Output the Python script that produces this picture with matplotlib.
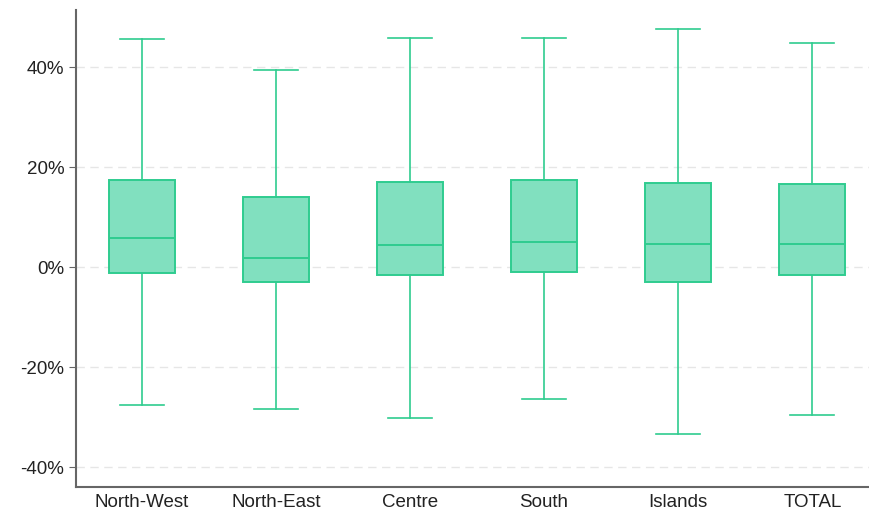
import matplotlib
matplotlib.use("Agg")
import matplotlib.pyplot as plt
from matplotlib.ticker import FuncFormatter

# values in percent
regions = ["North-West", "North-East", "Centre", "South", "Islands", "TOTAL"]
whisk_lo = [-27.6, -28.4, -30.2, -26.4, -33.4, -29.6]
q1 = [-1.2, -3.0, -1.6, -1.0, -3.0, -1.6]
median = [5.8, 1.8, 4.4, 5.0, 4.6, 4.6]
q3 = [17.4, 14.0, 17.0, 17.4, 16.8, 16.6]
whisk_hi = [45.6, 39.4, 45.8, 45.8, 47.6, 44.8]

edge = "#2fcc8f"
fill = "#81e0bf"

plt.rcParams['font.family'] = ['Liberation Sans', 'DejaVu Sans']

fig = plt.figure(figsize=(8.7, 5.12), dpi=100)
ax = fig.add_axes([0.0874, 0.0488, 0.9126, 0.9316])

stats = []
for i in range(len(regions)):
    stats.append({"label": regions[i], "whislo": whisk_lo[i], "q1": q1[i],
                  "med": median[i], "q3": q3[i], "whishi": whisk_hi[i],
                  "fliers": []})

ax.bxp(stats, positions=range(len(regions)), widths=0.49, patch_artist=True,
       showfliers=False, capwidths=0.33,
       boxprops=dict(facecolor=fill, edgecolor=edge, linewidth=1.4),
       medianprops=dict(color=edge, linewidth=1.4),
       whiskerprops=dict(color=edge, linewidth=1.2),
       capprops=dict(color=edge, linewidth=1.2))

ax.set_xlim(-0.49, 5.43)
ax.set_ylim(-44, 51.4)
ax.set_yticks([-40, -20, 0, 20, 40])
ax.yaxis.set_major_formatter(FuncFormatter(lambda v, p: f"{v:.0f}%"))
ax.yaxis.grid(True, color="#e6e6e6", linestyle=(0, (6, 4)), linewidth=1)
ax.set_axisbelow(True)

for s in ["top", "right"]:
    ax.spines[s].set_visible(False)
for s in ["left", "bottom"]:
    ax.spines[s].set_color("#666666")
    ax.spines[s].set_linewidth(1.5)

ax.tick_params(axis="y", labelsize=13.5, length=5, color="#666666", labelcolor="#222222")
ax.tick_params(axis="x", labelsize=13.5, length=0, pad=5, labelcolor="#222222")

fig.savefig("out.png", dpi=100)
